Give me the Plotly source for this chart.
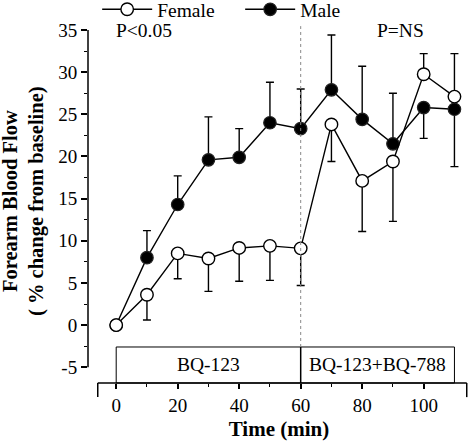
import plotly.graph_objects as go

# ---- data ----
time_min = [0, 10, 20, 30, 40, 50, 60, 70, 80, 90, 100, 110]

female = [0, 3.6, 8.5, 7.9, 9.15, 9.4, 9.1, 23.8, 17.1, 19.4, 29.75, 27.1]
female_err_up = [0, 0, 0, 0, 0, 0, 0, 0, 0, 0, 2.45, 5.1]
female_err_down = [0, 3.0, 3.0, 3.9, 3.95, 4.1, 4.4, 4.4, 6.0, 7.1, 0, 0]

male = [0, 8.0, 14.3, 19.6, 19.9, 24.0, 23.3, 27.9, 24.4, 21.5, 25.8, 25.6]
male_err_up = [0, 3.2, 3.4, 5.1, 3.4, 4.8, 4.7, 6.5, 6.3, 6.0, 0, 0]
male_err_down = [0, 0, 0, 0, 0, 0, 0, 0, 0, 0, 3.65, 6.8]

y_ticks = [-5, 0, 5, 10, 15, 20, 25, 30, 35]
y_tick_labels = ["-5", "0", "5", "10", "15", "20", "25", "30", "35"]
y_minor = [-2.5, 2.5, 7.5, 12.5, 17.5, 22.5, 27.5, 32.5]
x_ticks = [0, 20, 40, 60, 80, 100]
x_minor = [10, 30, 50, 70, 90]

phase_labels = ["BQ-123", "BQ-123+BQ-788"]
phase_bounds = [0, 60, 110]
stat_labels = ["P<0.05", "P=NS"]

FONT = "Liberation Serif"

fig = go.Figure()

fig.add_trace(go.Scatter(
    x=time_min, y=male, name="Male", mode="lines+markers",
    line=dict(color="black", width=1.4),
    marker=dict(symbol="circle", size=12.5, color="black",
                line=dict(color="#222", width=1.2)),
    error_y=dict(type="data", symmetric=False, array=male_err_up,
                 arrayminus=male_err_down, color="black", thickness=1.4, width=4),
))
fig.add_trace(go.Scatter(
    x=time_min, y=female, name="Female", mode="lines+markers",
    line=dict(color="black", width=1.4),
    marker=dict(symbol="circle", size=12.5, color="white",
                line=dict(color="black", width=1.4)),
    error_y=dict(type="data", symmetric=False, array=female_err_up,
                 arrayminus=female_err_down, color="black", thickness=1.4, width=4),
))

shapes = []
# y axis line (only from -5 to 35)
shapes.append(dict(type="line", xref="paper", yref="y", x0=0, x1=0,
                   y0=y_ticks[0], y1=y_ticks[-1], line=dict(color="black", width=1.5)))
# offset x axis line with end caps
shapes.append(dict(type="line", xref="x", yref="paper", x0=-6, x1=114, y0=0, y1=0,
                   line=dict(color="black", width=1.5)))
for xe in (-6, 114):
    shapes.append(dict(type="line", xref="x", yref="paper", x0=xe, x1=xe, y0=0, y1=-0.04,
                       line=dict(color="black", width=1.5)))
# treatment box
box_top = 0.102
shapes.append(dict(type="rect", xref="x", yref="paper", x0=phase_bounds[0], x1=phase_bounds[2],
                   y0=0, y1=box_top, line=dict(color="black", width=1)))
shapes.append(dict(type="line", xref="x", yref="paper", x0=phase_bounds[1], x1=phase_bounds[1],
                   y0=0, y1=box_top, line=dict(color="black", width=1.5)))
# dotted separator
shapes.append(dict(type="line", xref="x", yref="paper", x0=phase_bounds[1], x1=phase_bounds[1],
                   y0=box_top, y1=1.011, line=dict(color="#888", width=1, dash="dot")))

annotations = []
for i, lab in enumerate(phase_labels):
    annotations.append(dict(text=lab, xref="x", yref="paper",
                            x=(phase_bounds[i] + phase_bounds[i + 1]) / 2, y=box_top / 2,
                            showarrow=False, xanchor="center", yanchor="middle",
                            font=dict(family=FONT, size=19.5, color="black")))
annotations.append(dict(text=stat_labels[0], xref="x", yref="y", x=-0.8, y=34.9,
                        showarrow=False, xanchor="left", yanchor="middle",
                        font=dict(family=FONT, size=19.5, color="black")))
annotations.append(dict(text=stat_labels[1], xref="x", yref="y", x=84.3, y=34.9,
                        showarrow=False, xanchor="left", yanchor="middle",
                        font=dict(family=FONT, size=19.5, color="black")))
# y axis title (two bold lines, rotated)
annotations.append(dict(text="<b>Forearm Blood Flow</b><br><b>( % change from baseline)</b>",
                        xref="paper", yref="paper", x=-0.168, y=0.515, textangle=-90,
                        showarrow=False, xanchor="center", yanchor="middle",
                        font=dict(family=FONT, size=20.5, color="black")))

fig.update_layout(
    width=472, height=442,
    margin=dict(l=88, r=2, t=30, b=59, autoexpand=False),
    paper_bgcolor="white", plot_bgcolor="white",
    font=dict(family=FONT, color="black"),
    showlegend=True,
    legend=dict(orientation="h", xref="paper", x=0.024, xanchor="left",
                yref="paper", y=1.113, yanchor="top",
                traceorder="reversed", itemwidth=50, entrywidth=78, entrywidthmode="pixels",
                font=dict(family=FONT, size=19.5, color="black"),
                bgcolor="rgba(0,0,0,0)", borderwidth=0),
    shapes=shapes,
    annotations=annotations,
    xaxis=dict(range=[-9.17, 115.06], tickvals=x_ticks, ticks="outside", ticklen=5,
               tickwidth=1.5, tickcolor="black", showline=False, showgrid=False,
               zeroline=False, tickfont=dict(family=FONT, size=19, color="black"),
               minor=dict(tickvals=x_minor, ticks="outside", ticklen=3, tickwidth=1.2,
                          tickcolor="black", showgrid=False),
               title=dict(text="<b>Time (min)</b>", standoff=6,
                          font=dict(family=FONT, size=21, color="black"))),
    yaxis=dict(range=[-6.87, 35], tickvals=y_ticks, ticktext=y_tick_labels,
               ticks="outside", ticklen=6,
               tickwidth=1.5, tickcolor="black", showline=False, showgrid=False,
               zeroline=False, tickfont=dict(family=FONT, size=19, color="black"),
               minor=dict(tickvals=y_minor, ticks="outside", ticklen=3.5, tickwidth=1.2,
                          tickcolor="black", showgrid=False)),
)

fig.write_html("out.html", config={"displayModeBar": False},
               post_script="document.body.style.margin='0';document.body.style.overflow='hidden';")
